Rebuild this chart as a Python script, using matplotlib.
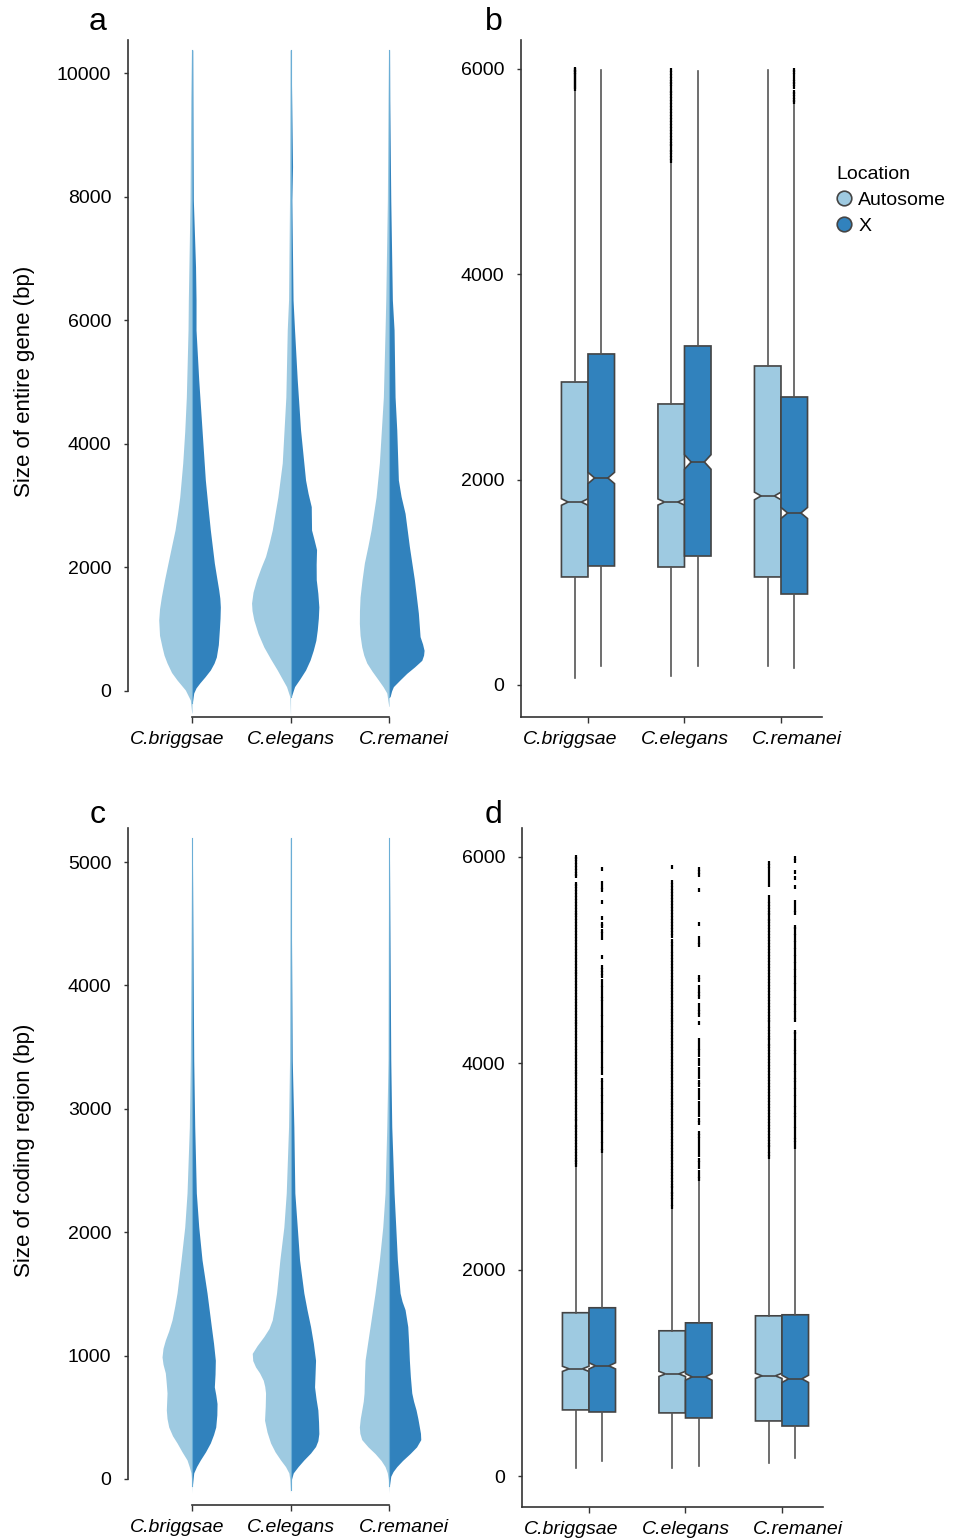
import matplotlib
matplotlib.use("Agg")
import matplotlib.pyplot as plt
from matplotlib.lines import Line2D
from matplotlib.transforms import ScaledTranslation

plt.rcParams["font.family"] = ["Liberation Sans", "DejaVu Sans"]

SPECIES = ["C.briggsae", "C.elegans", "C.remanei"]
LOCATIONS = ["Autosome", "X"]
AUTO_COLOR = "#9ecae1"
X_COLOR = "#3182bd"

# ---------------------------------------------------------------- violin profiles
# levels in bp, density = relative half width of each half violin

# panel a : entire gene
A_BRI_AUTO_LEV = [-356, -146, 16, 100, 178, 300, 453, 580, 712, 900, 1149, 1330, 1521, 1800, 2071, 2340,
                  2605, 2870, 3139, 3689, 4200, 4757, 5841, 6327, 7945, 9563, 10372]
A_BRI_AUTO_DEN = [0.3, 1.7, 6.7, 11, 15, 20.5, 25, 28, 30, 32.5, 33.3, 32.5, 30.7, 27.5, 24, 20.5,
                  17, 14.5, 12.3, 9.3, 7.3, 5.7, 4, 3.7, 2, 1.3, 0.5]
A_BRI_X_LEV = [-194, -32, 50, 129, 230, 340, 450, 550, 750, 987, 1180, 1359, 1500, 1634, 1850, 2071,
               2605, 3000, 3414, 4223, 5032, 5841, 6327, 6861, 7945, 9000, 10372]
A_BRI_X_DEN = [0.3, 1.7, 4, 7.7, 13, 18.3, 22, 24.3, 26.3, 27.3, 28, 28.3, 27.8, 26.7, 24.5, 22.3,
               18.3, 15.8, 13.3, 10, 6.7, 4, 4, 3.5, 1.3, 1, 0.7]

A_ELE_AUTO_LEV = [-414, -94, 70, 200, 340, 520, 712, 930, 1149, 1300, 1423, 1600, 1801, 2000, 2179,
                  2400, 2605, 3139, 3689, 4757, 5841, 6327, 8000, 10372]
A_ELE_AUTO_DEN = [0, 0.7, 4, 8.5, 13.3, 20, 26.7, 32.5, 36.7, 38.5, 39, 37.5, 34, 29.5, 25,
                  21.3, 18.3, 12.7, 8.3, 4.7, 3.3, 2, 1, 0.5]
A_ELE_X_LEV = [-94, 70, 200, 340, 500, 658, 820, 987, 1180, 1359, 1580, 1801, 2050, 2287, 2450, 2605,
               2983, 3200, 3414, 3689, 4223, 5032, 5841, 6327, 7945, 8484, 10372]
A_ELE_X_DEN = [0.7, 4, 9.5, 15, 19.5, 22.7, 25.3, 26.7, 27.8, 28.3, 27.3, 25.7, 25.6, 26, 23.5, 21,
               20.7, 17.5, 15, 13.3, 10, 6.7, 4, 2.5, 1.3, 2, 0.5]

A_REM_AUTO_LEV = [-250, -32, 70, 178, 320, 453, 580, 712, 900, 1094, 1300, 1521, 1800, 2071, 2340,
                  2605, 3139, 3689, 4757, 5841, 6327, 7945, 9563, 10372]
A_REM_AUTO_DEN = [0.3, 2.3, 6, 10.7, 17, 22.3, 25.3, 27.3, 29, 29.7, 29.6, 29, 27, 24.7, 21.2,
                  18, 13, 9.7, 5.7, 4, 3.3, 1.7, 1, 0.5]
A_REM_X_LEV = [-94, 0, 70, 180, 286, 390, 496, 580, 658, 760, 880, 1259, 1801, 2338, 2874, 3150, 3414,
               4223, 4757, 5841, 6327, 7945, 9563, 10372]
A_REM_X_DEN = [1, 2.5, 4.3, 11, 17.7, 25.5, 32.7, 34.5, 35, 33.5, 31, 29.3, 25.3, 20.3, 16, 12, 9.3,
               7.7, 6, 5, 3.3, 1.7, 0.7, 0.5]

# panel c : coding region
C_BRI_AUTO_LEV = [-113, 0, 49, 100, 154, 220, 292, 350, 421, 490, 559, 697, 780, 859, 930, 989, 1060,
                  1126, 1200, 1289, 1400, 1507, 1775, 2042, 2318, 2853, 3395, 4300, 5194]
C_BRI_AUTO_DEN = [0, 0.5, 1, 2.8, 5, 10, 15, 19.5, 23.3, 25, 25.7, 25, 25.8, 26.7, 29, 30, 29,
                  26.7, 23.3, 20, 17.3, 15, 11, 7.3, 5, 2.7, 1.7, 1, 0.3]
C_BRI_X_LEV = [-59, 49, 100, 154, 220, 292, 360, 421, 520, 611, 680, 746, 850, 962, 1100, 1235, 1507,
               1775, 2042, 2318, 2853, 3395, 4300, 5194]
C_BRI_X_DEN = [0.3, 1.7, 4.5, 8.3, 13.5, 18.3, 21.5, 23.7, 24.8, 25, 23.8, 22.3, 23, 23.3, 21.5, 19.3, 15,
               10, 6.7, 4.3, 2.7, 1.7, 1, 0.3]

C_ELE_AUTO_LEV = [-113, 0, 49, 100, 154, 220, 292, 380, 476, 590, 697, 750, 800, 860, 908, 960, 1018,
                  1080, 1154, 1220, 1289, 1400, 1507, 1775, 2042, 2318, 2853, 3395, 4300, 5194]
C_ELE_AUTO_DEN = [0, 0.8, 1.7, 5, 10, 15.5, 20, 23.5, 26, 25.3, 25, 25.8, 27.3, 31, 35, 37.8, 38.3,
                  33.5, 26.7, 21.5, 18.3, 16, 14, 10.7, 6.7, 4.3, 2, 1, 0.7, 0.3]
C_ELE_X_LEV = [-86, 0, 49, 100, 154, 210, 263, 310, 368, 460, 559, 650, 746, 850, 962, 1100, 1235, 1370,
               1507, 1775, 2042, 2318, 2853, 3395, 4300, 5194]
C_ELE_X_DEN = [0.3, 1, 2.7, 7.5, 13.3, 20, 25, 27.3, 28.3, 28, 27.3, 25.5, 24, 24.5, 25, 22.8, 20, 16.5,
               13.3, 9, 6.7, 4.3, 3.3, 1.7, 1, 0.3]

C_REM_AUTO_LEV = [-113, -5, 50, 100, 150, 206, 260, 319, 370, 421, 490, 559, 630, 697, 830, 962, 1100,
                  1235, 1507, 1775, 2042, 2318, 2853, 3395, 4300, 5194]
C_REM_AUTO_DEN = [0, 0.7, 1.8, 4, 8, 14, 21, 27.3, 29.2, 29.7, 28.8, 27.3, 25.8, 25, 24.6, 24, 21.5,
                  19, 14, 9.7, 6.3, 4, 2.3, 1, 0.7, 0.3]
C_REM_X_LEV = [-59, 22, 60, 100, 150, 206, 260, 319, 370, 421, 490, 559, 630, 697, 830, 962, 1100, 1235,
               1372, 1440, 1507, 1775, 2042, 2318, 2853, 3395, 4300, 5194]
C_REM_X_DEN = [0.3, 1.7, 4, 7.7, 13.5, 21, 27.5, 31.7, 31.4, 30.3, 28.8, 27, 24.5, 22.7, 21.3, 20.3, 19.6,
               18.7, 16, 13, 11, 8.3, 6.7, 5, 2.7, 1.7, 1, 0.3]

# ---------------------------------------------------------------- box plot stats
# panel b : entire gene
B_MED_AUTO = [1782, 1782, 1841]
B_Q1_AUTO = [1052, 1149, 1052]
B_Q3_AUTO = [2951, 2737, 3107]
B_LO_AUTO = [68, 88, 185]
B_HI_AUTO = [5800, 5100, 5990]
B_CI_AUTO = [32, 30, 37]
B_MED_X = [2016, 2172, 1675]
B_Q1_X = [1159, 1256, 886]
B_Q3_X = [3224, 3302, 2805]
B_LO_X = [185, 185, 165]
B_HI_X = [5990, 5980, 5670]
B_CI_X = [55, 71, 54]
B_FLIERS_AUTO = [
    [5808, 5829, 5846, 5866, 5883, 5901, 5920, 5941, 5957, 5972, 5988, 5999],
    [5104, 5133, 5159, 5190, 5214, 5245, 5272, 5301, 5330, 5360, 5389, 5417, 5449, 5476, 5503, 5535,
     5561, 5590, 5621, 5650, 5676, 5708, 5734, 5764, 5790, 5821, 5849, 5876, 5907, 5933, 5962, 5989],
    [],
]
B_FLIERS_X = [
    [],
    [],
    [5678, 5702, 5729, 5756, 5778, 5829, 5851, 5874, 5905, 5944, 5968, 5991],
]

# panel d : coding region
D_MED_AUTO = [1039, 990, 971]
D_Q1_AUTO = [641, 612, 534]
D_Q3_AUTO = [1583, 1408, 1553]
D_LO_AUTO = [78, 78, 126]
D_HI_AUTO = [3000, 2600, 3090]
D_CI_AUTO = [25, 25, 25]
D_MED_X = [1068, 961, 942]
D_Q1_X = [621, 563, 485]
D_Q3_X = [1631, 1485, 1563]
D_LO_X = [145, 97, 174]
D_HI_X = [3140, 2870, 3180]
D_CI_X = [30, 32, 35]
D_FLIERS_AUTO = [
    [3012, 3040, 3066, 3097, 3121, 3152, 3179, 3210, 3236, 3265, 3293, 3324, 3350, 3379, 3406, 3437,
     3463, 3494, 3520, 3549, 3578, 3607, 3634, 3665, 3691, 3722, 3749, 3778, 3806, 3835, 3863, 3894,
     3920, 3949, 3978, 4006, 4035, 4063, 4094, 4120, 4149, 4177, 4208, 4234, 4263, 4292, 4321, 4348,
     4378, 4405, 4433, 4462, 4491, 4519, 4548, 4577, 4604, 4633, 4661, 4690, 4719, 4748, 4775, 4804,
     4833, 4862, 4890, 4918, 4947, 4976, 5004, 5033, 5061, 5090, 5118, 5147, 5176, 5204, 5233, 5262,
     5290, 5319, 5347, 5376, 5405, 5433, 5462, 5490, 5519, 5547, 5576, 5604, 5633, 5661, 5690, 5718,
     5742, 5812, 5840, 5869, 5897, 5926, 5954, 5981, 5998],
    [2612, 2641, 2672, 2700, 2729, 2757, 2788, 2815, 2845, 2874, 2902, 2931, 2960, 2989, 3017, 3046,
     3075, 3103, 3132, 3161, 3190, 3218, 3247, 3276, 3305, 3333, 3362, 3391, 3419, 3448, 3477, 3506,
     3534, 3563, 3592, 3620, 3649, 3678, 3707, 3735, 3764, 3793, 3821, 3850, 3879, 3908, 3936, 3965,
     3994, 4022, 4051, 4080, 4109, 4137, 4166, 4195, 4223, 4252, 4281, 4310, 4338, 4367, 4396, 4424,
     4453, 4482, 4511, 4539, 4568, 4597, 4625, 4654, 4683, 4712, 4740, 4769, 4798, 4826, 4855, 4884,
     4913, 4941, 4970, 4999, 5027, 5056, 5085, 5127, 5160, 5190, 5232, 5262, 5291, 5320, 5349, 5378,
     5407, 5436, 5465, 5494, 5523, 5552, 5581, 5610, 5639, 5668, 5697, 5726, 5758, 5903],
    [3097, 3126, 3154, 3185, 3211, 3242, 3270, 3299, 3327, 3358, 3385, 3414, 3443, 3472, 3500, 3531,
     3558, 3587, 3616, 3645, 3673, 3704, 3731, 3760, 3789, 3818, 3846, 3877, 3904, 3933, 3962, 3991,
     4019, 4050, 4077, 4106, 4135, 4164, 4192, 4223, 4250, 4279, 4308, 4337, 4365, 4396, 4423, 4452,
     4481, 4510, 4538, 4569, 4596, 4625, 4654, 4683, 4711, 4742, 4769, 4798, 4827, 4856, 4884, 4915,
     4942, 4971, 5000, 5029, 5057, 5088, 5115, 5144, 5173, 5202, 5230, 5261, 5288, 5317, 5346, 5375,
     5403, 5434, 5461, 5490, 5519, 5548, 5576, 5608, 5730, 5772, 5808, 5846, 5880, 5912, 5940],
]
D_FLIERS_X = [
    [3148, 3180, 3214, 3251, 3283, 3322, 3357, 3391, 3430, 3461, 3498, 3530, 3567, 3604, 3632, 3671,
     3705, 3740, 3772, 3806, 3838, 3902, 3945, 3978, 4016, 4052, 4090, 4121, 4160, 4193, 4231, 4262,
     4305, 4338, 4372, 4410, 4447, 4480, 4515, 4552, 4590, 4622, 4655, 4694, 4731, 4762, 4795, 4842,
     4873, 4905, 4934, 5031, 5215, 5251, 5283, 5330, 5352, 5409, 5564, 5680, 5705, 5748, 5883],
    [2875, 2912, 2948, 2991, 3030, 3068, 3112, 3151, 3188, 3226, 3262, 3300, 3325, 3421, 3455, 3497,
     3540, 3576, 3615, 3661, 3700, 3741, 3786, 3820, 3868, 3905, 3950, 3991, 4030, 4081, 4118, 4152,
     4190, 4226, 4391, 4468, 4497, 4530, 4565, 4643, 4676, 4705, 4740, 4808, 4837, 5147, 5180, 5215,
     5350, 5680, 5825, 5850, 5883],
    [3189, 3224, 3258, 3290, 3327, 3361, 3394, 3430, 3466, 3497, 3533, 3568, 3601, 3637, 3672, 3706,
     3740, 3775, 3808, 3838, 3870, 3905, 3938, 3974, 4008, 4041, 4077, 4110, 4143, 4178, 4212, 4246,
     4280, 4303, 4420, 4452, 4487, 4519, 4553, 4588, 4621, 4655, 4690, 4724, 4757, 4791, 4826, 4860,
     4893, 4927, 4962, 4995, 5030, 5064, 5097, 5131, 5166, 5200, 5233, 5268, 5301, 5321, 5460, 5490,
     5525, 5560, 5705, 5800, 5850, 5960, 5990],
]

VIOLINS_A = [
    (A_BRI_AUTO_LEV, A_BRI_AUTO_DEN, A_BRI_X_LEV, A_BRI_X_DEN),
    (A_ELE_AUTO_LEV, A_ELE_AUTO_DEN, A_ELE_X_LEV, A_ELE_X_DEN),
    (A_REM_AUTO_LEV, A_REM_AUTO_DEN, A_REM_X_LEV, A_REM_X_DEN),
]
VIOLINS_C = [
    (C_BRI_AUTO_LEV, C_BRI_AUTO_DEN, C_BRI_X_LEV, C_BRI_X_DEN),
    (C_ELE_AUTO_LEV, C_ELE_AUTO_DEN, C_ELE_X_LEV, C_ELE_X_DEN),
    (C_REM_AUTO_LEV, C_REM_AUTO_DEN, C_REM_X_LEV, C_REM_X_DEN),
]

W, H = 964, 1540
EDGE = "#444444"
SPINE = "#333333"


def rect(left, top, right, bottom):
    return [left / W, 1 - bottom / H, (right - left) / W, (bottom - top) / H]


def style_axis(ax, yticks, ylim, xlim, label_shift):
    ax.set_xlim(*xlim)
    ax.set_ylim(*ylim)
    ax.set_yticks(yticks)
    ax.set_yticklabels([str(t) for t in yticks])
    ax.set_xticks(range(len(SPECIES)))
    ax.set_xticklabels(SPECIES, fontstyle="italic")
    for side in ["top", "right"]:
        ax.spines[side].set_visible(False)
    for side in ["left", "bottom"]:
        ax.spines[side].set_color(SPINE)
        ax.spines[side].set_linewidth(1.2)
    ax.tick_params(axis="y", length=3, width=1, pad=9, labelsize=14, color=SPINE)
    ax.tick_params(axis="x", length=4, width=1, pad=6, labelsize=14, color=SPINE)
    for lab, dx in zip(ax.get_xticklabels(), label_shift):
        lab.set_transform(lab.get_transform() + ScaledTranslation(dx / 100, 0, fig.dpi_scale_trans))


def draw_violins(ax, violins):
    scale = 1 / 98.5
    for i, (lev_a, den_a, lev_x, den_x) in enumerate(violins):
        ax.fill_betweenx(lev_a, [i - d * scale for d in den_a], i, color=AUTO_COLOR, lw=0)
        ax.fill_betweenx(lev_x, i, [i + d * scale for d in den_x], color=X_COLOR, lw=0)
        ax.plot([i, i], [min(lev_x), max(lev_x)], color="#6baed6", lw=0.8)


def draw_boxes(ax, auto, xs):
    offset = 0.1375
    for stats_in, color, shift in [(auto, AUTO_COLOR, -offset), (xs, X_COLOR, offset)]:
        med, q1, q3, lo, hi, ci, fl = stats_in
        stats = []
        for k in range(len(SPECIES)):
            stats.append(dict(med=med[k], q1=q1[k], q3=q3[k], whislo=lo[k], whishi=hi[k],
                              cilo=med[k] - ci[k], cihi=med[k] + ci[k], fliers=fl[k]))
        ax.bxp(
            stats,
            positions=[k + shift for k in range(len(SPECIES))],
            widths=0.275,
            shownotches=True,
            showcaps=False,
            patch_artist=True,
            manage_ticks=False,
            boxprops=dict(facecolor=color, edgecolor=EDGE, linewidth=1.2),
            whiskerprops=dict(color="#555555", linewidth=1.2),
            medianprops=dict(color=EDGE, linewidth=1.2),
            flierprops=dict(marker="|", markersize=2.4, markeredgecolor="black",
                            markeredgewidth=1.6, linestyle="none"),
        )


fig = plt.figure(figsize=(W / 100, H / 100), dpi=100)

ax_a = fig.add_axes(rect(128, 40, 460, 717))
draw_violins(ax_a, VIOLINS_A)
style_axis(ax_a, [0, 2000, 4000, 6000, 8000, 10000], (-421, 10534), (-0.65, 2.72), [-15, 0, 15])
ax_a.spines["bottom"].set_bounds(0, 2)
ax_a.spines["left"].set_bounds(0, 10534)

ax_b = fig.add_axes(rect(521, 40, 822, 717))
draw_boxes(ax_b,
           (B_MED_AUTO, B_Q1_AUTO, B_Q3_AUTO, B_LO_AUTO, B_HI_AUTO, B_CI_AUTO, B_FLIERS_AUTO),
           (B_MED_X, B_Q1_X, B_Q3_X, B_LO_X, B_HI_X, B_CI_X, B_FLIERS_X))
style_axis(ax_b, [0, 2000, 4000, 6000], (-312, 6282), (-0.694, 2.425), [-18, 0, 16])

ax_c = fig.add_axes(rect(128, 828, 460, 1505))
draw_violins(ax_c, VIOLINS_C)
style_axis(ax_c, [0, 1000, 2000, 3000, 4000, 5000], (-211, 5276), (-0.65, 2.72), [-15, 0, 15])
ax_c.spines["bottom"].set_bounds(0, 2)
ax_c.spines["left"].set_bounds(0, 5276)

ax_d = fig.add_axes(rect(522, 828, 823, 1507))
draw_boxes(ax_d,
           (D_MED_AUTO, D_Q1_AUTO, D_Q3_AUTO, D_LO_AUTO, D_HI_AUTO, D_CI_AUTO, D_FLIERS_AUTO),
           (D_MED_X, D_Q1_X, D_Q3_X, D_LO_X, D_HI_X, D_CI_X, D_FLIERS_X))
style_axis(ax_d, [0, 2000, 4000, 6000], (-300, 6281), (-0.694, 2.425), [-18, 0, 16])

fig.text(25 / W, 1 - 381 / H, "Size of entire gene (bp)", rotation=90, ha="center", va="center", fontsize=16)
fig.text(25 / W, 1 - 1150 / H, "Size of coding region (bp)", rotation=90, ha="center", va="center", fontsize=16)

for letter, x, y in [("a", 98, 22), ("b", 494, 22), ("c", 98, 815), ("d", 494, 815)]:
    fig.text(x / W, 1 - y / H, letter, ha="center", va="center", fontsize=23)

handles = [
    Line2D([], [], marker="o", linestyle="none", markersize=10.5,
           markerfacecolor=AUTO_COLOR, markeredgecolor=EDGE, markeredgewidth=1.2),
    Line2D([], [], marker="o", linestyle="none", markersize=10.5,
           markerfacecolor=X_COLOR, markeredgecolor=EDGE, markeredgewidth=1.2),
]
leg = fig.legend(handles, LOCATIONS, title="Location", loc="upper left",
                 bbox_to_anchor=(836 / W, 1 - 166 / H), frameon=False, fontsize=14,
                 title_fontsize=14, handlelength=0.8, handletextpad=0.35,
                 labelspacing=0.42, borderpad=0, borderaxespad=0)
leg._legend_box.align = "left"

fig.savefig("out.png", dpi=100)
